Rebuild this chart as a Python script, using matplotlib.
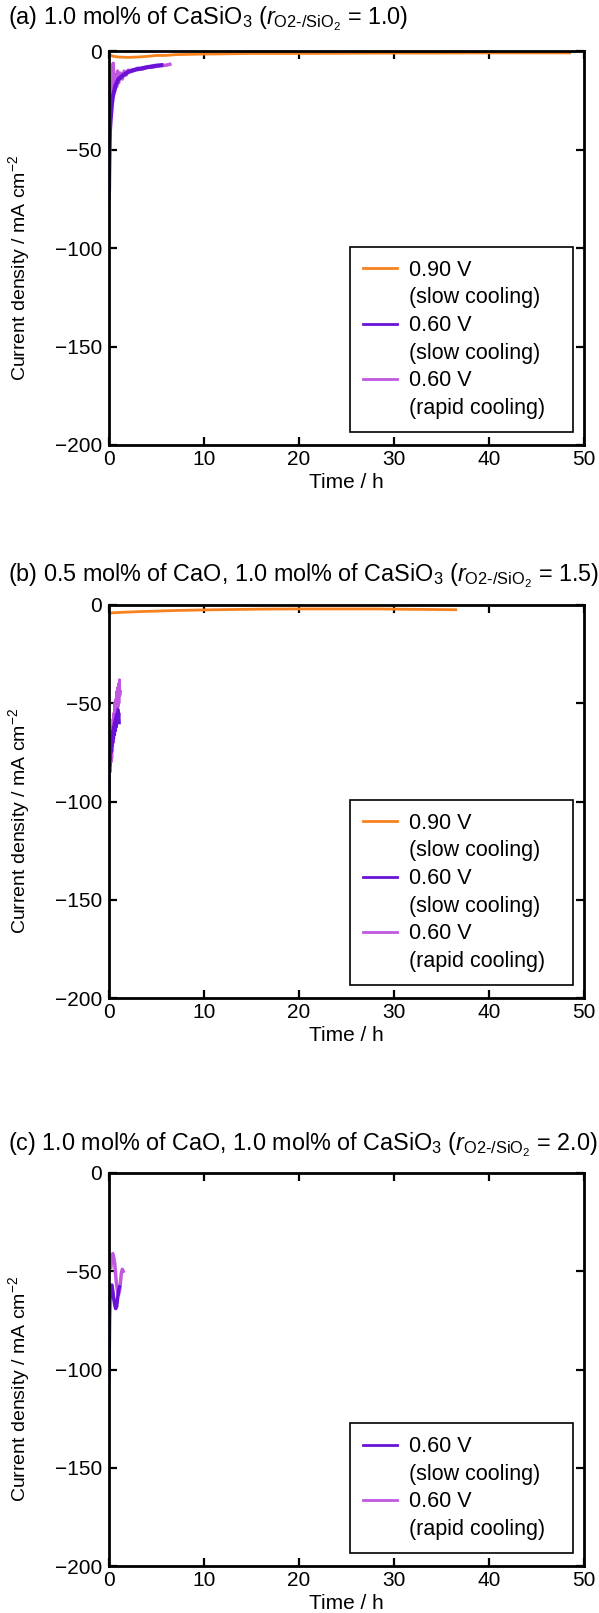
import matplotlib
matplotlib.use("Agg")
import matplotlib.pyplot as plt
from matplotlib.lines import Line2D

plt.rcParams["font.family"] = ["Liberation Sans", "DejaVu Sans"]
plt.rcParams["mathtext.fontset"] = "custom"
plt.rcParams["mathtext.rm"] = "Liberation Sans"
plt.rcParams["mathtext.it"] = "Liberation Sans:italic"
plt.rcParams["mathtext.bf"] = "Liberation Sans:bold"

# ---- colours / labels ----
C_090 = "#F7821E"
C_060_SLOW = "#6A12D6"
C_060_RAPID = "#C058E0"
legend_labels = ["0.90 V\n(slow cooling)", "0.60 V\n(slow cooling)", "0.60 V\n(rapid cooling)"]

titles = [
    r"(a) 1.0 mol% of CaSiO$_3$ ($r_{\mathrm{O2\text{-}/SiO_2}}$ = 1.0)",
    r"(b) 0.5 mol% of CaO, 1.0 mol% of CaSiO$_3$ ($r_{\mathrm{O2\text{-}/SiO_2}}$ = 1.5)",
    r"(c) 1.0 mol% of CaO, 1.0 mol% of CaSiO$_3$ ($r_{\mathrm{O2\text{-}/SiO_2}}$ = 2.0)",
]

xticks = [0, 10, 20, 30, 40, 50]
yticks = [0, -50, -100, -150, -200]
ytick_labels = ["0", "\u221250", "\u2212100", "\u2212150", "\u2212200"]

# ---- panel (a) ----
a_090_t = [0, 0.2, 0.5, 1, 2, 3, 4, 5, 6, 7, 8, 10, 12, 15, 20, 25, 30, 35, 40, 45, 48.5]
a_090_j = [-1, -2, -2.5, -2.8, -3, -2.8, -2.5, -2, -2, -1.6, -1.5, -1.3, -1.2, -1, -1,
           -0.9, -0.8, -0.8, -0.7, -0.7, -0.7]
a_slow_t = [0, 0.03, 0.06, 0.1, 0.15, 0.2, 0.3, 0.4, 0.5, 0.7, 1.0, 1.5, 2.0, 2.5,
            3.0, 3.5, 4.0, 4.5, 5.0, 5.5]
a_slow_j = [-70, -55, -46, -40, -36, -33, -27, -23, -21, -17, -14, -12, -10.5, -9.5,
            -9, -8.5, -8, -7.6, -7.2, -7]
a_rapid_t = [0, 0.05, 0.1, 0.2, 0.3, 0.4, 0.45, 0.5, 0.6, 0.7, 0.8, 0.9, 1.0, 1.2, 1.4,
             1.6, 1.8, 2.0, 2.5, 3, 3.5, 4, 4.5, 5, 5.5, 6, 6.4]
a_rapid_j = [-75, -55, -40, -25, -15, -8, -6, -18, -20, -12, -18, -10, -16, -11, -14,
             -10, -12, -9.5, -10, -8.5, -9, -8, -8, -7.5, -7, -7, -6.5]

# ---- panel (b) ----
b_090_t = [0, 0.3, 1, 2, 3, 5, 7, 10, 13, 16, 20, 24, 28, 32, 36.5]
b_090_j = [-4.5, -4, -3.8, -3.6, -3.4, -3.1, -2.8, -2.5, -2.3, -2.1, -2, -2, -2, -2.2, -2.4]
b_slow_t = [0.00, 0.02, 0.05, 0.08, 0.10, 0.13, 0.16, 0.20, 0.24, 0.28, 0.32, 0.36, 0.40,
            0.45, 0.50, 0.55, 0.60, 0.65, 0.70, 0.75, 0.80, 0.85, 0.90, 0.95, 1.00, 1.05, 1.10]
b_slow_j = [-100, -88, -80, -76, -82, -72, -78, -70, -75, -66, -72, -64, -70, -62, -68,
            -60, -66, -58, -64, -56, -62, -55, -60, -53, -58, -55, -60]
b_rapid_t = [0.10, 0.14, 0.18, 0.22, 0.26, 0.30, 0.34, 0.38, 0.42, 0.46, 0.50, 0.55, 0.60,
             0.65, 0.70, 0.75, 0.80, 0.85, 0.90, 0.95, 1.00, 1.05, 1.10, 1.15, 1.20]
b_rapid_j = [-75, -85, -70, -80, -65, -78, -62, -74, -58, -70, -55, -66, -50, -62, -48,
             -58, -44, -55, -42, -52, -40, -50, -38, -46, -44]

# ---- panel (c) ----
c_slow_t = [0, 0.03, 0.06, 0.1, 0.15, 0.2, 0.3, 0.4, 0.5, 0.6, 0.7, 0.8, 0.9, 1.0, 1.1]
c_slow_j = [-105, -90, -75, -65, -60, -58, -57, -60, -64, -67, -69, -68, -64, -60, -58]
c_rapid_t = [0.2, 0.3, 0.4, 0.5, 0.6, 0.7, 0.8, 0.9, 1.0, 1.1, 1.2, 1.3, 1.4, 1.5]
c_rapid_j = [-48, -42, -41, -43, -46, -52, -57, -60, -62, -60, -56, -51, -49, -50]

W, H = 599, 1613
fig = plt.figure(figsize=(W / 100, H / 100), dpi=100)

left_px, right_px = 109, 584
panels_px = [(51.5, 445), (605, 998), (1173, 1566)]
title_y_px = [18.5, 576, 1144.5]

FS_TITLE = 16.8
FS_TICK = 15
FS_XLABEL = 15
FS_YLABEL = 14
FS_LEGEND = 15.5


def make_axes(top, bottom):
    return fig.add_axes([left_px / W, 1 - bottom / H, (right_px - left_px) / W, (bottom - top) / H])


def style(ax):
    ax.set_xlim(0, 50)
    ax.set_ylim(-200, 0)
    ax.set_xticks(xticks)
    ax.set_yticks(yticks)
    ax.set_yticklabels(ytick_labels)
    ax.tick_params(direction="in", length=6, width=1.6, labelsize=FS_TICK, top=True, right=True)
    ax.tick_params(axis="x", pad=3.5)
    ax.tick_params(axis="y", pad=5)
    for s in ax.spines.values():
        s.set_linewidth(2.0)
    ax.set_xlabel("Time / h", fontsize=FS_XLABEL)
    ax.set_ylabel("Current density / mA cm$^{\u22122}$", fontsize=FS_YLABEL)
    ax.xaxis.set_label_coords(0.5, -0.071)
    ax.yaxis.set_label_coords(-0.163, 0.45)


series = [
    [(a_090_t, a_090_j, C_090, 2.0), (a_rapid_t, a_rapid_j, C_060_RAPID, 2.5),
     (a_slow_t, a_slow_j, C_060_SLOW, 3.0)],
    [(b_090_t, b_090_j, C_090, 2.0), (b_rapid_t, b_rapid_j, C_060_RAPID, 2.0),
     (b_slow_t, b_slow_j, C_060_SLOW, 2.0)],
    [(c_rapid_t, c_rapid_j, C_060_RAPID, 2.5), (c_slow_t, c_slow_j, C_060_SLOW, 2.5)],
]

for i, ((top, bottom), ty) in enumerate(zip(panels_px, title_y_px)):
    ax = make_axes(top, bottom)
    for t, j, c, lw in series[i]:
        ax.plot(t, j, color=c, lw=lw, solid_joinstyle="round")
    style(ax)
    fig.text(8 / W, 1 - ty / H, titles[i], fontsize=FS_TITLE, va="center", ha="left")

    if i < 2:
        cols = [C_090, C_060_SLOW, C_060_RAPID]
        labs = legend_labels
    else:
        cols = [C_060_SLOW, C_060_RAPID]
        labs = legend_labels[1:]
    # each entry: line sample beside the voltage, blank sample beside the cooling note
    handles, texts = [], []
    for c, lab in zip(cols, labs):
        first, second = lab.split("\n")
        handles += [Line2D([0], [0], color=c, lw=2), Line2D([], [], linestyle="none")]
        texts += [first, second]
    leg = ax.legend(handles, texts, loc="lower left", bbox_to_anchor=(0.507, 0.033, 0.470, 0.4),
                    mode="expand", borderaxespad=0, fontsize=FS_LEGEND, fancybox=False,
                    edgecolor="black", framealpha=1, handlelength=1.58, handletextpad=0.57,
                    labelspacing=0.31, borderpad=0.6)
    leg.get_frame().set_linewidth(1.2)

fig.savefig("out.png", dpi=100)
